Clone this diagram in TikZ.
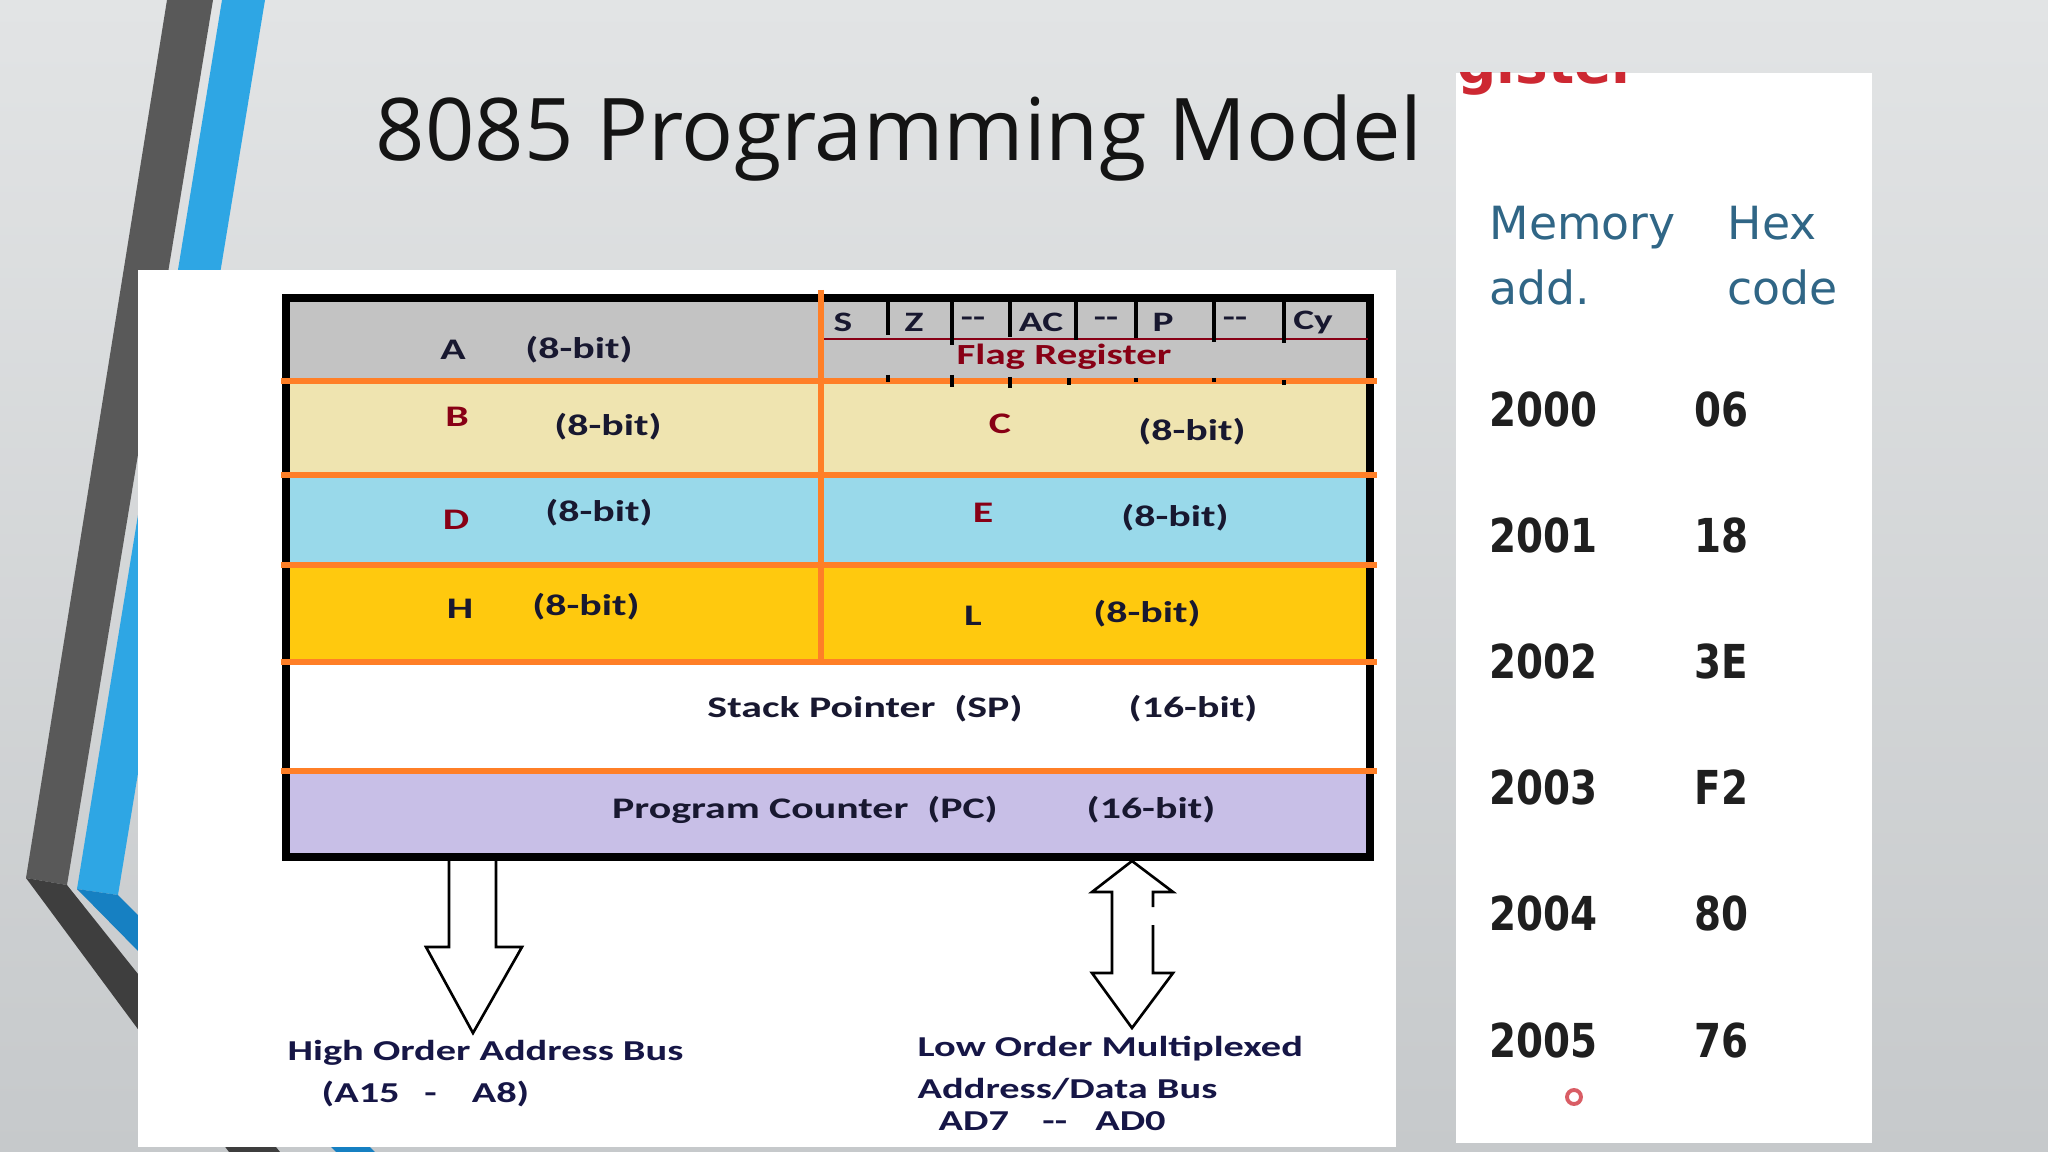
\documentclass[tikz,border=0pt]{standalone}
\usepackage{fontspec}
\usepackage{tikz}
\usetikzlibrary{positioning}
\setmainfont{Carlito}
\newfontfamily\regfont[FakeStretch=1.4]{Carlito}
\newfontfamily\titlefont{Open Sans}
\newfontfamily\headfont{DejaVu Sans}
\newfontfamily\numfont[FakeStretch=0.83]{DejaVu Sans}

\definecolor{slidetop}{RGB}{226,228,229}
\definecolor{slidebot}{RGB}{198,201,203}
\definecolor{stripegrey}{RGB}{89,89,89}
\definecolor{stripedark}{RGB}{62,62,62}
\definecolor{stripeblue}{RGB}{46,166,228}
\definecolor{stripebluedark}{RGB}{22,128,194}
\definecolor{paintgrey}{RGB}{195,195,195}
\definecolor{paintyellow}{RGB}{239,228,176}
\definecolor{painttur}{RGB}{153,217,234}
\definecolor{paintgold}{RGB}{255,201,14}
\definecolor{paintlav}{RGB}{200,191,231}
\definecolor{paintorange}{RGB}{255,127,39}
\definecolor{paintred}{RGB}{136,0,21}
\definecolor{navytxt}{RGB}{24,24,48}
\definecolor{bustxtc}{RGB}{22,22,70}
\definecolor{memblue}{RGB}{48,102,134}
\definecolor{ringred}{RGB}{205,40,50}

\tikzset{
    regtxt/.style={inner sep=0pt, font=\regfont\fontsize{8.5}{10}\selectfont\bfseries, text=navytxt},
    reglbl/.style={regtxt, text=paintred},
    flagbit/.style={inner sep=0pt, font=\regfont\fontsize{8}{9}\selectfont\bfseries, text=navytxt},
    bustxt/.style={inner sep=0pt, anchor=west, font=\regfont\fontsize{8.2}{10}\selectfont\bfseries, text=bustxtc},
    memhead/.style={inner sep=0pt, anchor=base west, font=\headfont\fontsize{13}{15}\selectfont, text=memblue},
    memnum/.style={inner sep=0pt, anchor=west, font=\numfont\fontsize{13.3}{15}\selectfont\bfseries, text=black!88},
    sepline/.style={draw=paintorange, line width=1.45pt},
    flagtick/.style={draw=black, line width=1.3pt},
    busarrow/.style={draw=black, line width=0.75pt, line join=miter}
}

\begin{document}
\begin{tikzpicture}[x=0.01cm, y=-0.01cm]
    \useasboundingbox (0,0) rectangle (2048,1152);

    % Slide background and side stripes
    \shade[top color=slidetop, bottom color=slidebot] (0,0) rectangle (2048,1152);
    \fill[stripegrey] (167,0) -- (213,0) -- (67,885) -- (26,878) -- cycle;
    \fill[stripedark] (26,878) -- (67,885) -- (280,1152) -- (229,1152) -- cycle;
    \fill[stripeblue] (222,0) -- (265,0) -- (118,895) -- (77,889) -- cycle;
    \fill[stripebluedark] (77,889) -- (118,895) -- (375,1152) -- (336,1152) -- cycle;

    % Title
    \node (titleTxt) [anchor=base west, inner sep=0pt, font=\titlefont\fontsize{24.6}{29}\selectfont, text=black!92] at (375,161) {8085 Programming Model};

    % Panels
    \fill[white] (138,270) rectangle (1396,1147);
    \fill[white] (1456,73) rectangle (1872,1143);

    % Register rows
    \fill[paintgrey] (285,296) rectangle (1371,381);
    \fill[paintyellow] (285,381) rectangle (1371,475);
    \fill[painttur] (285,475) rectangle (1371,565);
    \fill[paintgold] (285,565) rectangle (1371,662);
    \fill[paintlav] (285,771) rectangle (1371,858);
    \draw[black, line width=2pt] (286,298) rectangle (1370,857);

    % Flag register bits
    \draw[paintred, line width=0.6pt] (823,339) -- (1368,339);
    \foreach \tx/\tbot in {888/335, 952/345, 1010/337, 1076/340, 1136/338, 1214/342, 1284/343}
        \draw[flagtick] (\tx,300) -- (\tx,\tbot);
    \foreach \fx/\fname [count=\k] in {843/S, 914/Z, 973/{-{}-}, 1041/AC, 1106/{-{}-}, 1163/P, 1235/{-{}-}, 1313/Cy}
        \node (flag\k) [flagbit] at (\fx,322) {\fname};
    \node (flagName) [reglbl, font=\regfont\fontsize{8.3}{10}\selectfont\bfseries] at (1064,357) {Flag Register};

    % Separators
    \foreach \sy in {381, 475, 565, 662, 771}
        \draw[sepline] (281,\sy) -- (1377,\sy);
    \draw[sepline] (821,290) -- (821,662);
    \foreach \tx/\stop/\sbot in {888/375/382, 952/375/387, 1010/377/388, 1069/378/385, 1136/378/382, 1214/378/382, 1284/380/385}
        \draw[flagtick] (\tx,\stop) -- (\tx,\sbot);

    % Register names
    \node (regA) [regtxt] at (453,350) {A};
    \node (bitA) [regtxt] at (579,350) {(8-bit)};
    \node (regB) [reglbl] at (457,417) {B};
    \node (bitB) [regtxt] at (608,427) {(8-bit)};
    \node (regC) [reglbl] at (1000,424) {C};
    \node (bitC) [regtxt] at (1192,432) {(8-bit)};
    \node (regD) [reglbl] at (456,520) {D};
    \node (bitD) [regtxt] at (599,513) {(8-bit)};
    \node (regE) [reglbl] at (983,513) {E};
    \node (bitE) [regtxt] at (1175,518) {(8-bit)};
    \node (regH) [regtxt] at (460,609) {H};
    \node (bitH) [regtxt] at (586,607) {(8-bit)};
    \node (regL) [regtxt] at (973,616) {L};
    \node (bitL) [regtxt] at (1147,614) {(8-bit)};
    \node (regSP) [regtxt] at (865,709) {Stack Pointer~ (SP)};
    \node (bitSP) [regtxt] at (1193,709) {(16-bit)};
    \node (regPC) [regtxt] at (805,810) {Program Counter~ (PC)};
    \node (bitPC) [regtxt] at (1151,810) {(16-bit)};

    % Buses
    \coordinate (hiBus) at (449,861);
    \coordinate (loBus) at (1132,861);
    \draw[busarrow] (hiBus) -- ++(0,86) -- ++(-23,0) -- ++(47,86) -- ++(49,-86) -- ++(-26,0) -- ++(0,-86);
    \draw[busarrow] (loBus) -- ++(-40,31) -- ++(20,0) -- ++(0,81) -- ++(-20,0) -- ++(40,55) -- ++(41,-55) -- ++(-20,0) -- ++(0,-48)
        ++(0,-18) -- ++(0,-15) -- ++(20,0) -- (loBus);

    \node (hiName) [bustxt] at (287,1053) {High Order Address Bus};
    \node (hiRange) [bustxt] at (321,1094) {(A15\hspace{7pt}-\hspace{10pt}A8)};
    \node (loName) [bustxt] at (917,1049) {Low Order Multiplexed};
    \node (loKind) [bustxt] at (917,1089) {Address/Data Bus};
    \node (loRange) [bustxt] at (938,1121) {AD7\hspace{9.5pt}-{}-\hspace{8pt}AD0};

    % Memory table
    \begin{scope}
        \clip (1456,73) rectangle (1872,1143);
        \node (cutHead) [anchor=base west, inner sep=0pt, font=\headfont\fontsize{15.6}{18}\selectfont\bfseries, text=ringred] at (1457,84) {gister};
    \end{scope}
    \node (memHead) [memhead] at (1489,240) {Memory};
    \node (memAdd) [memhead] at (1489,305) {add.};
    \node (hexHead) [memhead] at (1727,240) {Hex};
    \node (hexCode) [memhead] at (1727,305) {code};
    \foreach \addr/\code [count=\i from 0] in {2000/06, 2001/18, 2002/3E, 2003/F2, 2004/80, 2005/76} {
        \node (addr\i) [memnum] at (1489,409+126.2*\i) {\addr};
        \node (code\i) [memnum] at (1694,409+126.2*\i) {\code};
    }
    \draw[ringred, line width=1.1pt, opacity=0.75] (1574,1097) circle (7);
\end{tikzpicture}
\end{document}
